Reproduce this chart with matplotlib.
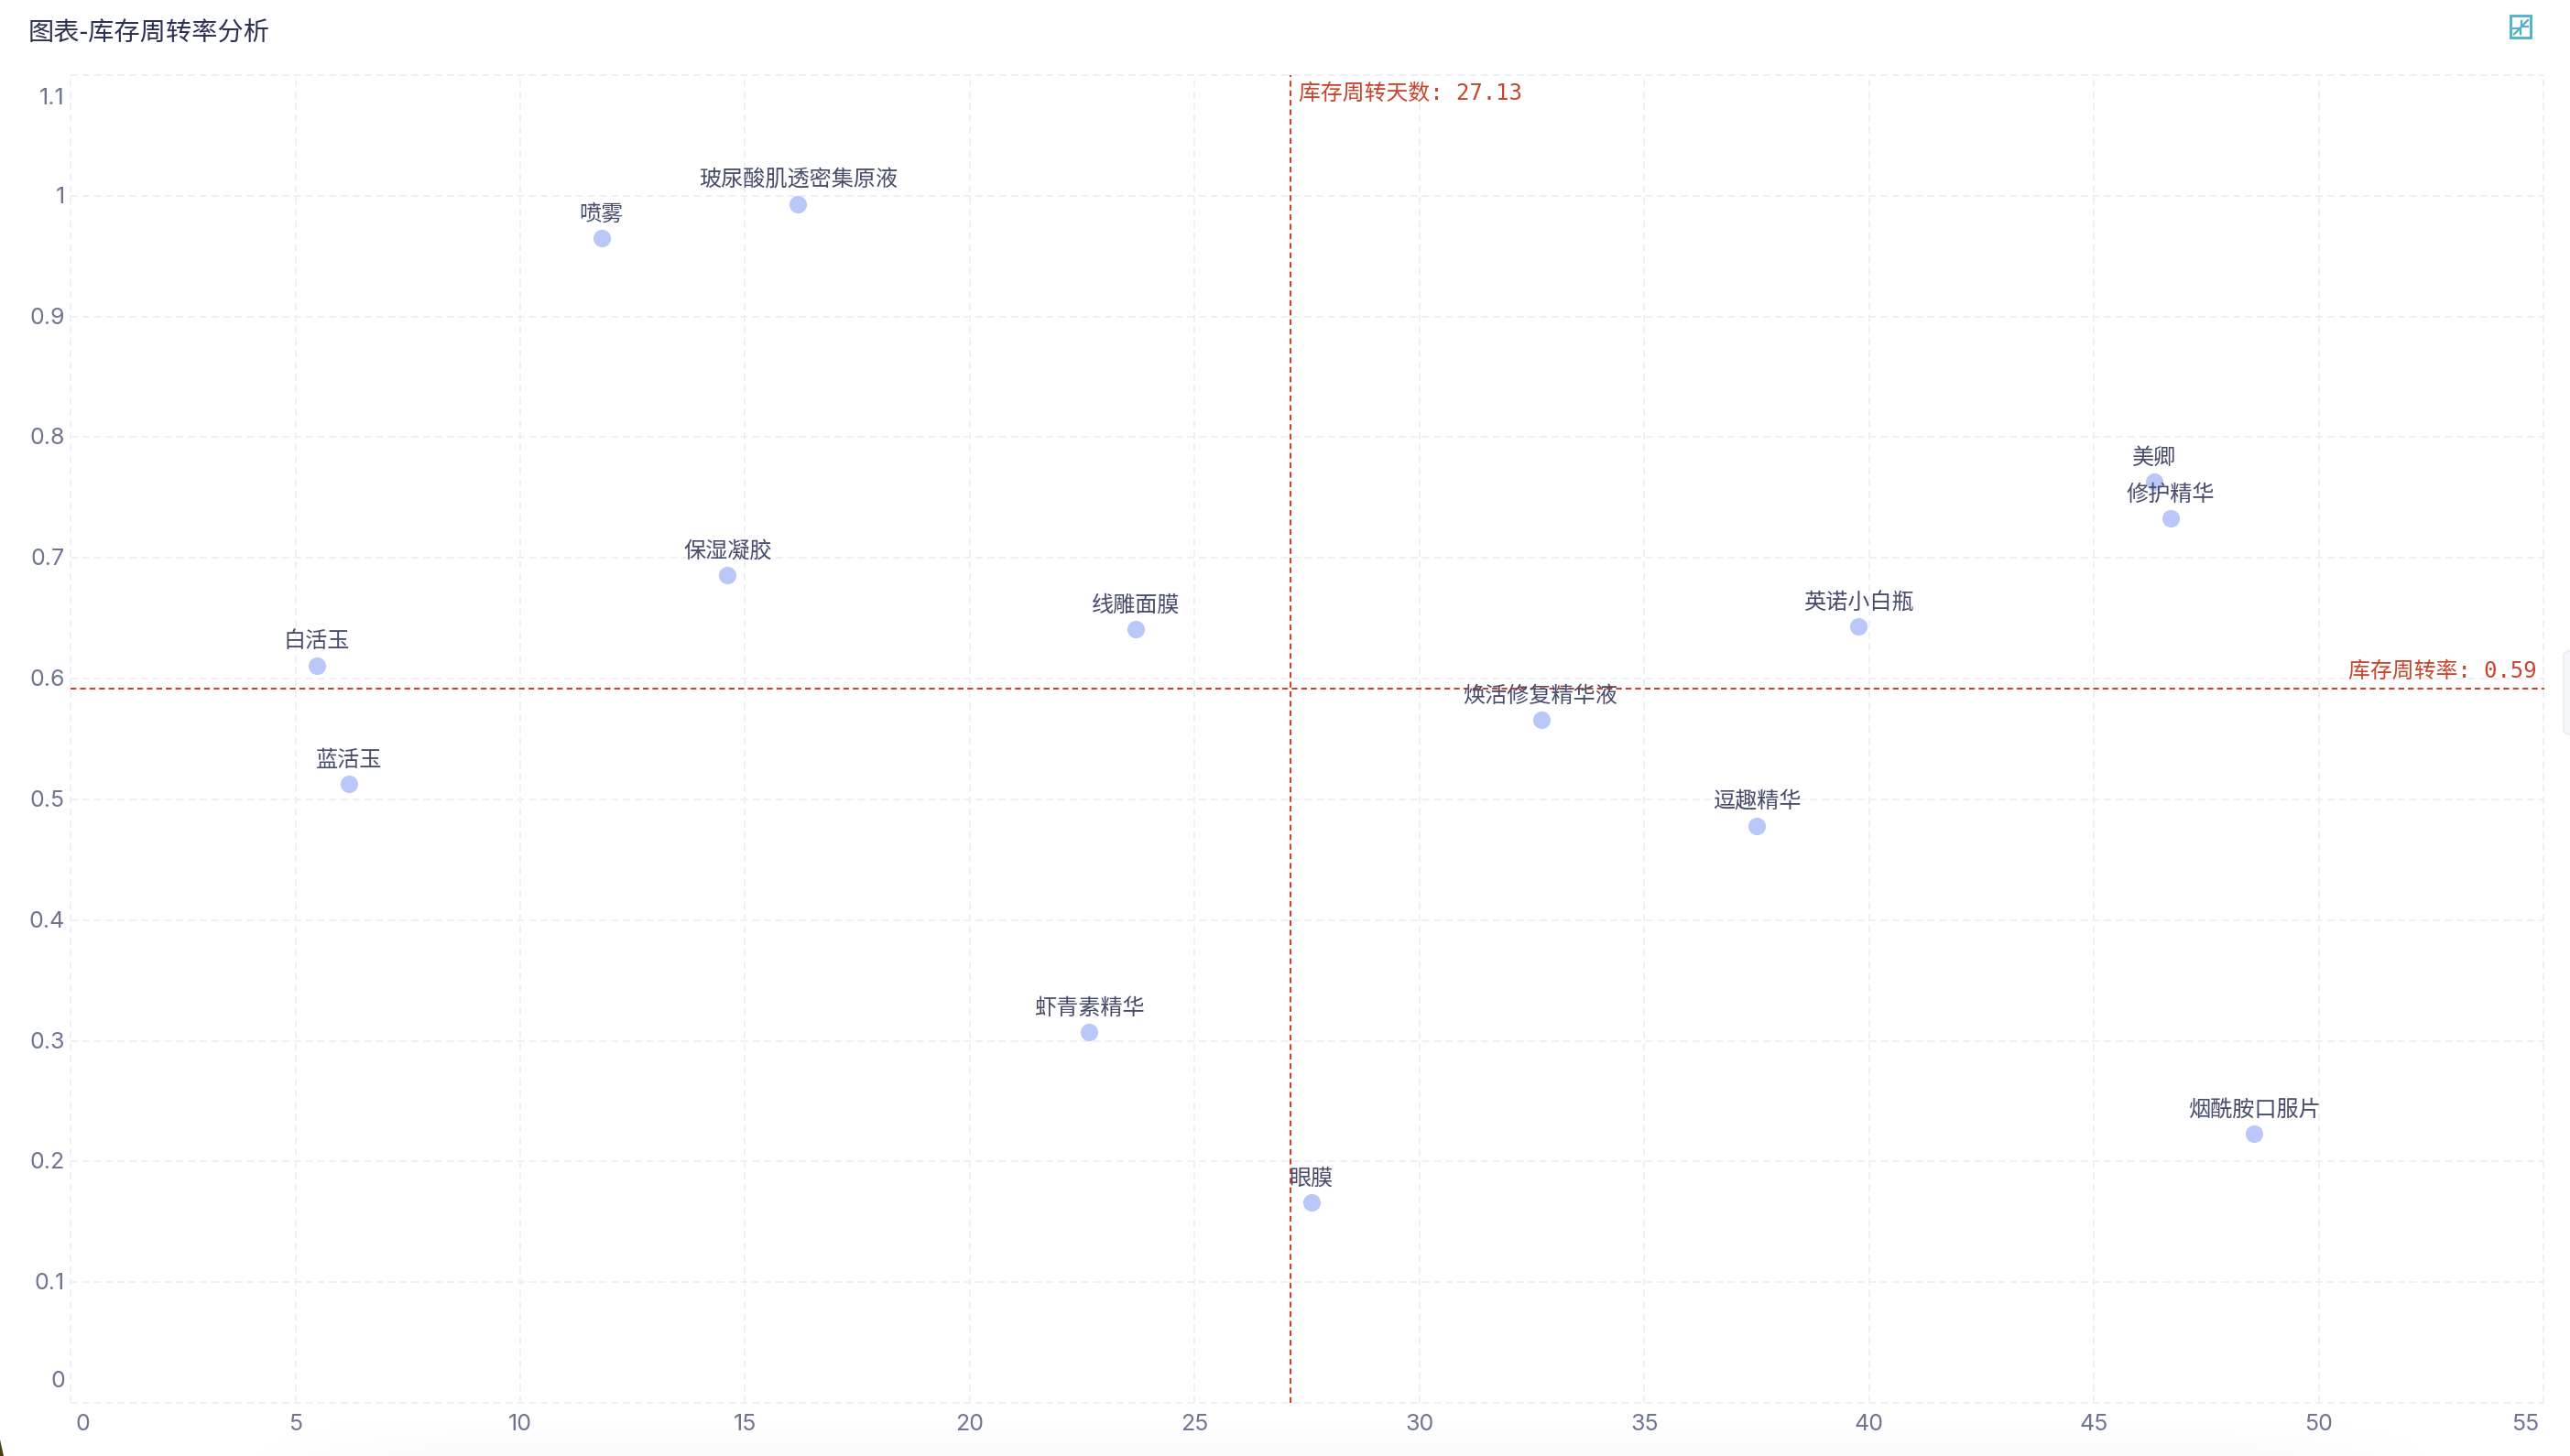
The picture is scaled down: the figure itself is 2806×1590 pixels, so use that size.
import matplotlib
matplotlib.use('Agg')
import matplotlib.pyplot as plt
from matplotlib.lines import Line2D
from matplotlib.patches import Rectangle, FancyBboxPatch, Polygon
import numpy as np

# 字体：中文用 Noto，等宽标注回退到 CJK
plt.rcParams['font.family'] = ['Noto Sans CJK SC', 'DejaVu Sans']

W, H = 2806, 1590

# 数据
names = ['喷雾', '玻尿酸肌透密集原液', '保湿凝胶', '线雕面膜', '白活玉', '蓝活玉',
         '虾青素精华', '眼膜', '焕活修复精华液', '逗趣精华', '英诺小白瓶',
         '美卿', '修护精华', '烟酰胺口服片']
turnover_days = [11.81, 16.18, 14.61, 23.69, 5.48, 6.20,
                 22.65, 27.59, 32.70, 37.50, 39.76,
                 46.34, 46.70, 48.56]
turnover_rate = [0.965, 0.993, 0.686, 0.641, 0.611, 0.513,
                 0.307, 0.166, 0.566, 0.478, 0.643,
                 0.763, 0.733, 0.223]
avg_days = 27.13
avg_rate = 0.592

x_ticks = [0, 5, 10, 15, 20, 25, 30, 35, 40, 45, 50, 55]
y_ticks = [0, 0.1, 0.2, 0.3, 0.4, 0.5, 0.6, 0.7, 0.8, 0.9, 1, 1.1]
y_tick_labels = ['0', '0.1', '0.2', '0.3', '0.4', '0.5', '0.6', '0.7', '0.8', '0.9', '1', '1.1']

GRID = '#eef0f5'
TICK = '#6f7490'
LABEL = '#474c6b'
RED = '#c9442c'
DOT = '#b9c8f7'
ICON = '#4fb0c6'


def fx(px):
    return px / W


def fy(py):
    return 1 - py / H


fig = plt.figure(figsize=(W / 100, H / 100), dpi=100, facecolor='white')

# 底部淡灰阴影，两端收掉
bg = fig.add_axes([0, 0, 1, 50 / H], zorder=0)
vert = np.linspace(0, 1, 50) ** 1.5
horiz = np.clip(np.minimum((np.arange(W) - 260) / 240, (2670 - np.arange(W)) / 240), 0, 1)
bg.imshow(np.outer(vert, horiz), aspect='auto', cmap='Greys', vmin=0, vmax=25, origin='upper')
bg.axis('off')

ax = fig.add_axes([fx(77), fy(1532), (2777.5 - 77) / W, (1532 - 82) / H], zorder=1)
ax.patch.set_alpha(0)
ax.set_xlim(0, 55)
ax.set_ylim(0, 1.1)
for s in ax.spines.values():
    s.set_visible(False)

ax.set_xticks(x_ticks)
ax.set_yticks(y_ticks)
ax.set_xticklabels([])
ax.set_yticklabels([])
ax.tick_params(length=0)
ax.grid(True, color=GRID, linewidth=1.4, linestyle=(0, (4, 2.6)), zorder=0)
for ln in ax.get_xgridlines() + ax.get_ygridlines():
    ln.set_clip_on(False)

# 刻度文字，两端向内收
for v in x_ticks:
    xp = 77 + v * (2777.5 - 77) / 55
    if v == 0:
        xp = 90
    if v == 55:
        xp = 2757
    fig.text(fx(xp), fy(1555), str(v), color=TICK, fontsize=18, family='Inter', ha='center', va='center')
for v, lab in zip(y_ticks, y_tick_labels):
    yp = 1532 - v * (1532 - 82) / 1.1
    if v == 0:
        yp = 1507
    if v == 1.1:
        yp = 106
    fig.text(fx(71), fy(yp + 1.5), lab, color=TICK, fontsize=18, family='Inter', ha='right', va='center')

# 参考线
ax.axvline(avg_days, color=RED, linewidth=1.5, linestyle=(0, (3, 2)), zorder=2)
ax.axhline(avg_rate, color=RED, linewidth=1.5, linestyle=(0, (3, 2)), zorder=2)

ax.scatter(turnover_days, turnover_rate, s=190, color=DOT, linewidths=0, zorder=3, clip_on=False)
for n, xv, yv in zip(names, turnover_days, turnover_rate):
    ax.annotate(n, (xv, yv), xytext=(0, 18.8), textcoords='offset points', ha='center', va='center',
                fontsize=17.4, color=LABEL, zorder=4)

mono = ['DejaVu Sans Mono', 'Noto Sans CJK SC']
fig.text(fx(1418), fy(101.5), f'库存周转天数: {avg_days}', color=RED, fontsize=17.2,
         family=mono, ha='left', va='center', zorder=5)
fig.text(fx(2769.5), fy(732.5), f'库存周转率: {avg_rate:.2f}', color=RED, fontsize=17.2,
         family=mono, ha='right', va='center', zorder=5)

fig.text(fx(31), fy(37), '图表-库存周转率分析', color='#2b3055', fontsize=20.3, ha='left', va='center')

# 右上角收起图标
fig.add_artist(Rectangle((fx(2741.3), fy(41)), 22 / W, 23.5 / H, transform=fig.transFigure,
                         facecolor='none', edgecolor=ICON, linewidth=2))
for x0, y0, x1, y1 in [(2760, 22, 2752.7, 29.3), (2745, 37.3, 2751.7, 30.7)]:
    fig.add_artist(Line2D([fx(x0), fx(x1)], [fy(y0), fy(y1)], color=ICON, linewidth=1.6,
                          transform=fig.transFigure))
for xs, ys in [([2752.7, 2752.7, 2760], [22.7, 29.3, 29.3]), ([2744, 2751.7, 2751.7], [30.7, 30.7, 37.3])]:
    fig.add_artist(Line2D([fx(p) for p in xs], [fy(p) for p in ys], color=ICON, linewidth=1.6,
                          transform=fig.transFigure))

# 截图边缘：右侧浮层和左下角
fig.add_artist(FancyBboxPatch((fx(2799), fy(803)), 40 / W, 93 / H, boxstyle='round,pad=0,rounding_size=0.006',
                              mutation_aspect=H / W, transform=fig.transFigure,
                              facecolor='#f6f7fb', edgecolor='#e9eaf0', linewidth=1))
fig.add_artist(Polygon([(0, fy(1572)), (fx(4), fy(1590)), (0, fy(1590))], closed=True,
                       transform=fig.transFigure, facecolor='#4a3d10', edgecolor='none'))

fig.savefig('out.png', dpi=100, facecolor='white')
